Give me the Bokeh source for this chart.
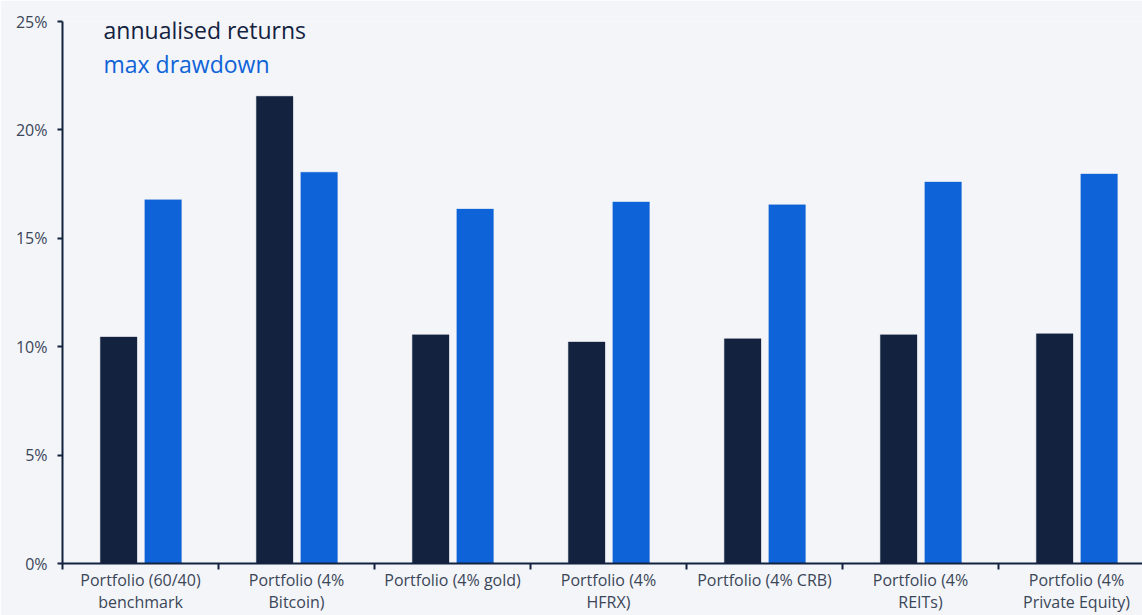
from bokeh.plotting import figure
from bokeh.models import Range1d, FixedTicker, PrintfTickFormatter, Label
from bokeh.embed import file_html
from bokeh.resources import INLINE

# Portfolio variants and their statistics (in %)
categories = [
    "Portfolio (60/40)\nbenchmark",
    "Portfolio (4%\nBitcoin)",
    "Portfolio (4% gold)",
    "Portfolio (4%\nHFRX)",
    "Portfolio (4% CRB)",
    "Portfolio (4%\nREITs)",
    "Portfolio (4%\nPrivate Equity)",
]
annualised_returns = [10.45, 21.55, 10.55, 10.22, 10.37, 10.55, 10.6]
max_drawdown = [16.78, 18.05, 16.35, 16.68, 16.55, 17.6, 17.97]
y_ticks = [0, 5, 10, 15, 20, 25]

NAVY = "#13223f"
BLUE = "#0e63d8"
BG = "#f3f5f9"
TICK_TEXT = "#3b4658"
FONT = "Open Sans"

n = len(categories)
idx = list(range(n))

p = figure(
    width=1142, height=615,
    x_range=Range1d(0, 6.923), y_range=Range1d(0, 25),
    output_backend="svg", toolbar_location=None,
    min_border_left=62, min_border_right=0,
    min_border_top=21, min_border_bottom=52,
)
p.background_fill_color = BG
p.border_fill_color = BG
p.outline_line_color = None
p.xgrid.visible = False
p.ygrid.visible = False

# Grouped bars: returns on the left, drawdown on the right of each slot
p.vbar(x=[i + 0.36 for i in idx], top=annualised_returns, bottom=0,
       width=0.235, fill_color=NAVY, line_color=NAVY, line_alpha=0.3)
p.vbar(x=[i + 0.645 for i in idx], top=max_drawdown, bottom=0,
       width=0.235, fill_color=BLUE, line_color=BLUE, line_alpha=0.3)

# Y axis
ya = p.yaxis[0]
ya.ticker = FixedTicker(ticks=y_ticks)
ya.formatter = PrintfTickFormatter(format="%d%%")
ya.axis_line_color = NAVY
ya.axis_line_width = 2
ya.major_tick_line_color = NAVY
ya.major_tick_line_width = 2
ya.major_tick_out = 5
ya.major_tick_in = 0
ya.minor_tick_line_color = None
ya.major_label_text_font = FONT
ya.major_label_text_font_size = "16px"
ya.major_label_text_color = TICK_TEXT
ya.major_label_standoff = 10

# X axis: labels centred in each slot, ticks on the slot boundaries
xa = p.xaxis[0]
xa.ticker = FixedTicker(ticks=[i + 0.5 for i in idx],
                        minor_ticks=list(range(n + 1)))
xa.major_label_overrides = {i + 0.5: c for i, c in zip(idx, categories)}
xa.axis_line_color = NAVY
xa.axis_line_width = 2
xa.major_tick_line_color = None
xa.major_tick_out = 0
xa.major_tick_in = 0
xa.minor_tick_line_color = NAVY
xa.minor_tick_line_width = 2
xa.minor_tick_out = 6
xa.minor_tick_in = 0
xa.major_label_text_font = FONT
xa.major_label_text_font_size = "16px"
xa.major_label_text_color = TICK_TEXT
xa.major_label_text_line_height = 1.0
xa.major_label_standoff = -1

# Text legend
p.add_layout(Label(x=0.263, y=24.6, text="annualised returns",
                   text_font=FONT, text_font_size="23px",
                   text_color=NAVY, text_baseline="middle"))
p.add_layout(Label(x=0.263, y=23.05, text="max drawdown",
                   text_font=FONT, text_font_size="23px",
                   text_color=BLUE, text_baseline="middle"))

open("out.html", "w").write(file_html(p, INLINE))
